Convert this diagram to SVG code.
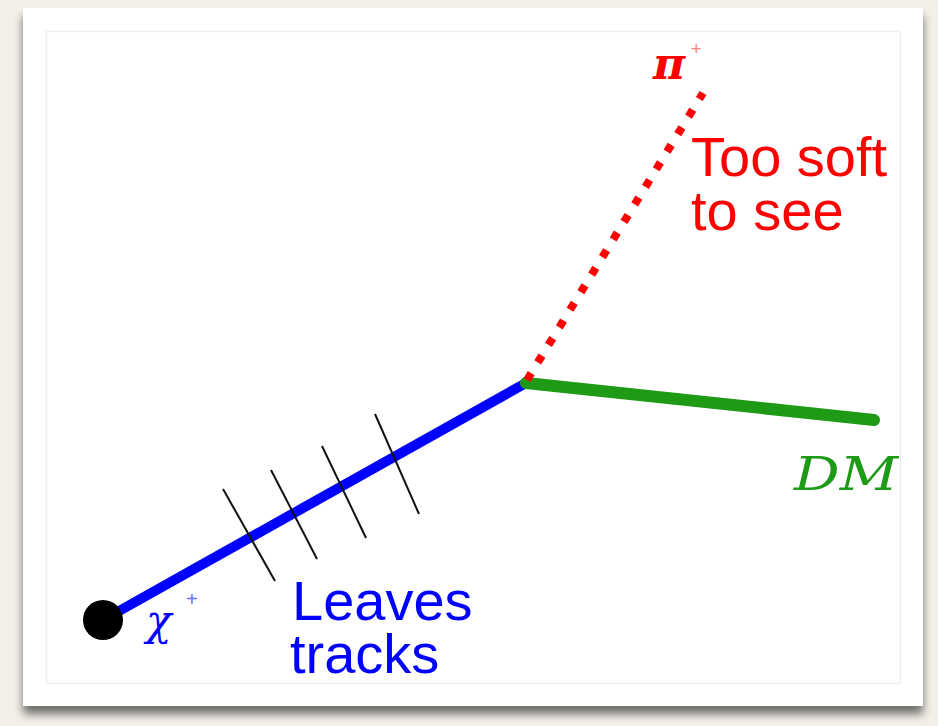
<svg xmlns="http://www.w3.org/2000/svg" width="938" height="726" viewBox="0 0 938 726">
  <defs>
    <filter id="shadow" x="-5%" y="-5%" width="110%" height="115%">
      <feGaussianBlur in="SourceAlpha" stdDeviation="5"/>
      <feOffset dx="0" dy="8"/>
      <feComponentTransfer><feFuncA type="linear" slope="0.55"/></feComponentTransfer>
      <feMerge><feMergeNode/><feMergeNode in="SourceGraphic"/></feMerge>
    </filter>
    <style>
      .sans { font-family: "Liberation Sans", Arial, sans-serif; font-size: 56px; }
      .math { font-family: "DejaVu Serif", "Liberation Serif", serif; font-style: italic; }
      .tick { stroke: #111; stroke-width: 2; fill: none; }
    </style>
  </defs>
  <rect x="0" y="0" width="938" height="726" fill="#f3f0e9"/>
  <rect x="23" y="8" width="900" height="698" fill="#ffffff" filter="url(#shadow)"/>
  <rect x="46.5" y="31.5" width="854" height="652" fill="none" stroke="#efefef" stroke-width="1.5"/>

  <g id="connectors">
    <line id="chi-track" x1="103" y1="620" x2="526" y2="383" stroke="#0000ff" stroke-width="10"/>
    <line id="dm-track" x1="526" y1="383" x2="874" y2="420" stroke="#1e9a17" stroke-width="12" stroke-linecap="round"/>
    <line id="pi-track" x1="527" y1="380" x2="703" y2="93" stroke="#ff0000" stroke-width="8" stroke-dasharray="8 12.6"/>
  </g>

  <g id="ticks">
    <line class="tick" x1="223" y1="489" x2="275" y2="581"/>
    <line class="tick" x1="271" y1="470" x2="317" y2="559"/>
    <line class="tick" x1="322" y1="446" x2="366" y2="538"/>
    <line class="tick" x1="375" y1="414" x2="419" y2="514"/>
  </g>

  <g id="vertex">
    <circle cx="103" cy="620" r="20" fill="#000"/>
  </g>

  <g id="label-chi">
    <text class="math" x="146" y="635" font-size="42" fill="#0000ff">χ</text>
    <text x="186" y="606" font-family="Liberation Sans, sans-serif" font-size="20" fill="#6a6aff">+</text>
  </g>
  <g id="label-leaves">
    <text class="sans" x="292" y="620" fill="#0000ff">Leaves</text>
    <text class="sans" x="290" y="673" fill="#0000ff">tracks</text>
  </g>
  <g id="label-pi">
    <text class="math" x="653" y="79" font-size="44" font-weight="bold" fill="#ff0000">π</text>
    <text x="691" y="55" font-family="Liberation Sans, sans-serif" font-size="18" fill="#ff8080">+</text>
  </g>
  <g id="label-soft">
    <text class="sans" x="691" y="176" fill="#ff0000">Too soft</text>
    <text class="sans" x="691" y="230" fill="#ff0000">to see</text>
  </g>
  <g id="label-dm">
    <text class="math" x="794" y="490" font-size="46" fill="#1e9a17" textLength="104" lengthAdjust="spacingAndGlyphs">DM</text>
  </g>
</svg>
